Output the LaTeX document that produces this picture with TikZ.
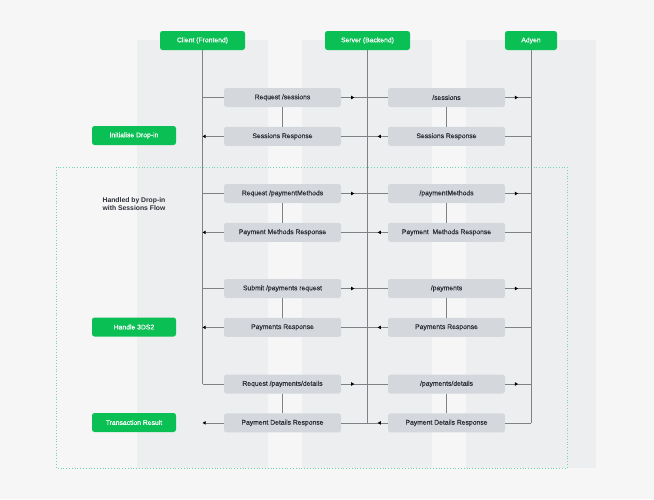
\documentclass[tikz,border=0pt]{standalone}
\usepackage{fontspec}
\setmainfont{Liberation Sans}
\newfontfamily\medfont[FakeBold=0.35]{Liberation Sans}
\usepackage{xcolor}
\usepackage{tikz}
\usetikzlibrary{arrows.meta, positioning, decorations.markings}
\definecolor{adyengreen}{HTML}{0ABF53}
\definecolor{boxgray}{HTML}{D4D7DB}
\definecolor{bggray}{HTML}{F6F6F7}
\definecolor{bandgray}{HTML}{EDEEF0}
\definecolor{linegray}{HTML}{7E8186}
\definecolor{textdark}{HTML}{2A2E35}
\definecolor{dotgreen}{HTML}{6FD6AE}
\tikzset{
    head/.style={rectangle, rounded corners=2.5pt, fill=adyengreen, text=white, font=\medfont\fontsize{6.8}{8}\selectfont, minimum height=19pt, inner sep=0pt, align=center},
    msg/.style={rectangle, rounded corners=2.5pt, fill=boxgray, text=textdark, font=\medfont\fontsize{6.8}{8}\selectfont, minimum width=117pt, minimum height=19pt, inner sep=0pt, align=center},
    wire/.style={draw=linegray, line width=0.8pt},
    endtip/.style={-{Triangle[length=3.2pt, width=3.4pt, color=black]}},
    midtip/.style={postaction={decorate}, decoration={markings, mark=at position 0.5 with {\arrow{Triangle[length=3.2pt, width=3.4pt, color=black]}}}}
}

\begin{document}
\begin{tikzpicture}[x=1pt, y=1pt, node distance=19.5pt]
    % background and columns
    \fill [bggray] (0,0) rectangle (654,-499);
    \useasboundingbox (0,0) rectangle (654,-499);
    \foreach \xl/\xr in {137/268, 302/432, 466/596}
        \fill [bandgray] (\xl,-40) rectangle (\xr,-468);
    \draw [dotgreen, dotted, line width=0.8pt] (56.5,-167) rectangle (567,-468);

    % participants
    \node (cli) [head, minimum width=85pt] at (202.5,-40.5) {Client (Frontend)};
    \node (srv) [head, minimum width=85pt] at (367.5,-40.5) {Server (Backend)};
    \node (ady) [head, minimum width=52pt] at (531,-40.5) {Adyen};

    % client side steps
    \node (init) [head, minimum width=84pt] at (134,-135.5) {Initialise Drop-in};
    \node (note) [font=\fontsize{6.8}{8.8}\selectfont\bfseries, text=textdark, align=center] at (134,-204) {Handled by Drop-in\\with Sessions Flow};
    \node (tds) [head, minimum width=84pt] at (134,-327) {Handle 3DS2};
    \node (result) [head, minimum width=84pt] at (134,-422.5) {Transaction Result};

    % messages client <-> server
    \node (creq1) [msg] at (282.5,-97.5) {Request /sessions};
    \node (cres1) [msg, below=of creq1] {Sessions Response};
    \node (creq2) [msg] at (282.5,-193.5) {Request /paymentMethods};
    \node (cres2) [msg, below=of creq2] {Payment Methods Response};
    \node (creq3) [msg] at (282.5,-288.5) {Submit /payments request};
    \node (cres3) [msg, below=of creq3] {Payments Response};
    \node (creq4) [msg] at (282.5,-384) {Request /payments/details};
    \node (cres4) [msg, below=of creq4] {Payment Details Response};

    % messages server <-> adyen
    \node (sreq1) [msg] at (446.5,-97.5) {/sessions};
    \node (sres1) [msg, below=of sreq1] {Sessions Response};
    \node (sreq2) [msg] at (446.5,-193.5) {/paymentMethods};
    \node (sres2) [msg, below=of sreq2] {Payment\ \ Methods Response};
    \node (sreq3) [msg] at (446.5,-288.5) {/payments};
    \node (sres3) [msg, below=of sreq3] {Payments Response};
    \node (sreq4) [msg] at (446.5,-384) {/payments/details};
    \node (sres4) [msg, below=of sreq4] {Payment Details Response};

    % lifelines
    \draw [wire] (cli.south) -- (cli |- creq4.west);
    \draw [wire] (srv.south) -- (srv |- sres4.west);
    \draw [wire] (ady.south) -- (ady |- sres4.east);

    % connectors
    \foreach \i in {1,...,4} {
        \draw [wire] (creq\i.west -| cli) -- (creq\i.west);
        \draw [wire, midtip] (creq\i.east) -- (creq\i.east -| srv);
        \draw [wire] (sreq\i.west -| srv) -- (sreq\i.west);
        \draw [wire, midtip] (sreq\i.east) -- (sreq\i.east -| ady);
        \draw [wire] (creq\i.south) -- (cres\i.north);
        \draw [wire] (sreq\i.south) -- (sres\i.north);
        \draw [wire] (sres\i.east -| ady) -- (sres\i.east);
        \draw [wire, midtip] (sres\i.west) -- (sres\i.west -| srv);
        \draw [wire] (cres\i.east -| srv) -- (cres\i.east);
        \draw [wire, endtip] (cres\i.west) -- (cres\i.west -| cli);
    }
\end{tikzpicture}
\end{document}
